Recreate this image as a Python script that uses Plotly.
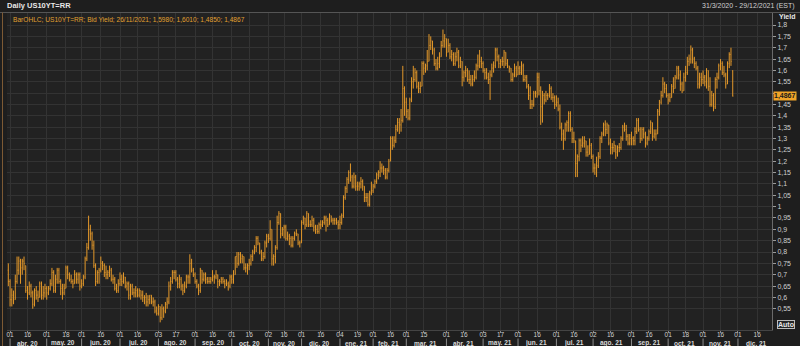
import pandas as pd
import plotly.graph_objects as go

# ---------------- data ----------------
HOLIDAYS = ["2020-04-10", "2020-05-25", "2020-07-03", "2020-09-07", "2020-10-12",
            "2020-11-11", "2020-11-26", "2020-12-25", "2021-01-01", "2021-01-18",
            "2021-02-15", "2021-04-02", "2021-05-31", "2021-07-05", "2021-09-06",
            "2021-10-11", "2021-11-11", "2021-11-25", "2021-12-24"]

MONTHS = ["2020-03", "2020-04", "2020-05", "2020-06", "2020-07", "2020-08", "2020-09",
          "2020-10", "2020-11", "2020-12", "2021-01", "2021-02", "2021-03", "2021-04",
          "2021-05", "2021-06", "2021-07", "2021-08", "2021-09", "2021-10", "2021-11"]

opens = [
    [0.72],
    [0.67,0.59,0.61,0.59,0.67,0.72,0.76,0.73,0.76,0.74,0.63,0.62,0.65,0.62,0.57,0.63,0.61,0.60,0.66,0.61,0.62],
    [0.64,0.62,0.64,0.66,0.71,0.63,0.68,0.72,0.67,0.64,0.62,0.64,0.73,0.70,0.68,0.67,0.66,0.70,0.68,0.70],
    [0.65,0.66,0.69,0.77,0.82,0.90,0.88,0.83,0.74,0.67,0.71,0.72,0.75,0.74,0.71,0.70,0.71,0.72,0.68,0.68,0.64,0.63],
    [0.66,0.68,0.67,0.69,0.65,0.66,0.61,0.65,0.62,0.62,0.63,0.61,0.63,0.61,0.60,0.60,0.58,0.59,0.61,0.58,0.58,0.54],
    [0.53,0.56,0.51,0.55,0.54,0.57,0.58,0.65,0.67,0.71,0.71,0.68,0.66,0.68,0.65,0.63,0.65,0.69,0.69,0.75,0.72],
    [0.70,0.67,0.65,0.63,0.72,0.68,0.70,0.68,0.67,0.67,0.68,0.69,0.69,0.70,0.67,0.67,0.68,0.67,0.66,0.66,0.65],
    [0.69,0.68,0.70,0.78,0.75,0.79,0.77,0.78,0.73,0.73,0.74,0.75,0.78,0.80,0.82,0.86,0.84,0.80,0.77,0.78,0.84],
    [0.87,0.86,0.90,0.77,0.78,0.82,0.93,0.97,0.88,0.90,0.91,0.86,0.87,0.86,0.83,0.86,0.88,0.88,0.84],
    [0.84,0.93,0.95,0.92,0.97,0.92,0.92,0.94,0.91,0.90,0.89,0.92,0.92,0.93,0.95,0.94,0.92,0.96,0.94,0.94,0.94,0.93],
    [0.92,0.93,0.96,1.04,1.08,1.12,1.15,1.13,1.09,1.13,1.09,1.09,1.10,1.11,1.09,1.04,1.04,1.01,1.06],
    [1.07,1.09,1.11,1.14,1.15,1.17,1.17,1.16,1.13,1.16,1.20,1.30,1.27,1.29,1.34,1.37,1.36,1.38,1.52],
    [1.46,1.42,1.39,1.47,1.55,1.56,1.59,1.53,1.52,1.53,1.63,1.61,1.62,1.64,1.71,1.73,1.69,1.63,1.61,1.63,1.66,1.71,1.73],
    [1.74,1.68,1.71,1.66,1.67,1.63,1.66,1.68,1.62,1.64,1.57,1.59,1.60,1.56,1.56,1.54,1.56,1.57,1.62,1.62,1.64],
    [1.63,1.60,1.59,1.57,1.56,1.58,1.61,1.62,1.69,1.66,1.63,1.64,1.64,1.68,1.63,1.62,1.61,1.56,1.58,1.61],
    [1.58,1.61,1.59,1.62,1.56,1.57,1.53,1.49,1.45,1.45,1.50,1.50,1.57,1.51,1.44,1.49,1.47,1.49,1.49,1.52,1.48,1.48],
    [1.45,1.46,1.43,1.35,1.32,1.30,1.36,1.37,1.41,1.34,1.30,1.29,1.19,1.22,1.29,1.27,1.28,1.29,1.24,1.23,1.27],
    [1.22,1.17,1.17,1.18,1.22,1.30,1.32,1.36,1.34,1.36,1.28,1.26,1.26,1.27,1.24,1.26,1.26,1.30,1.35,1.34,1.31,1.28],
    [1.30,1.30,1.29,1.33,1.38,1.34,1.30,1.34,1.32,1.28,1.30,1.33,1.37,1.31,1.32,1.32,1.42,1.46,1.49,1.54,1.52],
    [1.49,1.47,1.48,1.53,1.52,1.57,1.61,1.58,1.54,1.51,1.57,1.59,1.64,1.65,1.69,1.65,1.63,1.61,1.54,1.57],
    [1.56,1.57,1.55,1.60,1.53,1.45,1.49,1.44,1.56,1.57,1.62,1.63,1.59,1.58,1.54,1.63,1.67,1.598],
]

highs = [
    [0.75],
    [0.68,0.64,0.63,0.70,0.78,0.78,0.77,0.77,0.78,0.74,0.65,0.67,0.66,0.63,0.64,0.65,0.63,0.67,0.67,0.65,0.66],
    [0.65,0.65,0.68,0.73,0.72,0.70,0.73,0.73,0.68,0.66,0.66,0.74,0.74,0.71,0.70,0.68,0.72,0.71,0.71,0.71],
    [0.68,0.70,0.78,0.84,0.96,0.92,0.89,0.85,0.75,0.72,0.73,0.78,0.76,0.75,0.74,0.72,0.74,0.73,0.70,0.69,0.66,0.68],
    [0.71,0.70,0.71,0.69,0.67,0.67,0.66,0.66,0.64,0.65,0.64,0.64,0.63,0.63,0.61,0.62,0.61,0.61,0.61,0.60,0.59,0.56],
    [0.57,0.56,0.57,0.56,0.58,0.60,0.67,0.69,0.72,0.72,0.72,0.69,0.70,0.69,0.66,0.67,0.70,0.70,0.79,0.77,0.73],
    [0.71,0.68,0.66,0.73,0.72,0.71,0.71,0.69,0.69,0.69,0.72,0.70,0.72,0.70,0.68,0.69,0.69,0.68,0.68,0.67,0.70],
    [0.70,0.72,0.78,0.80,0.80,0.80,0.79,0.78,0.75,0.75,0.77,0.79,0.81,0.83,0.87,0.87,0.84,0.81,0.80,0.85,0.88],
    [0.88,0.94,0.90,0.79,0.83,0.96,0.98,0.97,0.91,0.92,0.92,0.89,0.88,0.87,0.87,0.89,0.90,0.88,0.85],
    [0.94,0.96,0.95,0.98,0.97,0.94,0.96,0.95,0.92,0.92,0.93,0.94,0.94,0.96,0.96,0.95,0.97,0.96,0.95,0.95,0.95,0.94],
    [0.96,0.97,1.05,1.09,1.13,1.16,1.19,1.14,1.15,1.14,1.11,1.11,1.13,1.12,1.09,1.06,1.06,1.07,1.11],
    [1.10,1.12,1.15,1.16,1.20,1.19,1.18,1.17,1.17,1.21,1.31,1.31,1.31,1.36,1.39,1.39,1.43,1.62,1.53],
    [1.48,1.43,1.48,1.57,1.62,1.61,1.60,1.55,1.55,1.64,1.64,1.63,1.69,1.76,1.75,1.73,1.70,1.65,1.66,1.68,1.73,1.78,1.76],
    [1.74,1.74,1.72,1.69,1.68,1.68,1.70,1.69,1.66,1.64,1.60,1.62,1.61,1.60,1.58,1.58,1.60,1.63,1.67,1.69,1.66],
    [1.64,1.61,1.61,1.59,1.60,1.63,1.64,1.70,1.70,1.67,1.65,1.66,1.69,1.68,1.65,1.62,1.61,1.59,1.63,1.62],
    [1.64,1.62,1.64,1.63,1.58,1.58,1.54,1.53,1.47,1.51,1.51,1.59,1.59,1.53,1.51,1.50,1.51,1.50,1.54,1.53,1.50,1.49],
    [1.49,1.48,1.45,1.37,1.34,1.37,1.38,1.42,1.42,1.35,1.33,1.29,1.23,1.30,1.30,1.31,1.31,1.29,1.27,1.30,1.28],
    [1.23,1.19,1.22,1.24,1.31,1.33,1.37,1.38,1.37,1.36,1.30,1.28,1.29,1.27,1.27,1.28,1.31,1.36,1.37,1.36,1.32,1.32],
    [1.33,1.31,1.35,1.39,1.39,1.35,1.35,1.35,1.33,1.31,1.34,1.38,1.37,1.34,1.34,1.43,1.47,1.51,1.57,1.55,1.54],
    [1.50,1.50,1.54,1.57,1.58,1.62,1.62,1.60,1.55,1.59,1.62,1.66,1.67,1.71,1.70,1.66,1.64,1.62,1.59,1.59],
    [1.60,1.58,1.61,1.60,1.57,1.51,1.50,1.57,1.59,1.63,1.65,1.64,1.62,1.59,1.64,1.68,1.70,1.601],
]

lows = [
    [0.65],
    [0.56,0.56,0.57,0.59,0.66,0.70,0.66,0.70,0.72,0.62,0.59,0.61,0.60,0.55,0.56,0.59,0.58,0.60,0.59,0.59,0.60],
    [0.59,0.61,0.63,0.65,0.62,0.62,0.66,0.66,0.61,0.59,0.61,0.64,0.68,0.67,0.66,0.64,0.66,0.66,0.66,0.63],
    [0.64,0.65,0.68,0.76,0.81,0.85,0.81,0.73,0.65,0.66,0.66,0.71,0.72,0.69,0.68,0.68,0.69,0.67,0.66,0.63,0.62,0.62],
    [0.65,0.65,0.66,0.64,0.63,0.59,0.59,0.61,0.60,0.60,0.60,0.60,0.59,0.58,0.57,0.56,0.56,0.57,0.57,0.56,0.53,0.52],
    [0.52,0.49,0.50,0.51,0.53,0.55,0.57,0.63,0.66,0.68,0.67,0.64,0.64,0.63,0.61,0.62,0.64,0.66,0.66,0.71,0.69],
    [0.66,0.64,0.61,0.62,0.66,0.67,0.66,0.66,0.66,0.66,0.67,0.66,0.68,0.64,0.65,0.66,0.66,0.64,0.65,0.63,0.64],
    [0.66,0.66,0.70,0.73,0.74,0.75,0.75,0.72,0.71,0.70,0.72,0.74,0.76,0.79,0.80,0.83,0.79,0.76,0.76,0.77,0.82],
    [0.84,0.85,0.74,0.74,0.75,0.81,0.92,0.86,0.87,0.86,0.85,0.85,0.83,0.82,0.82,0.85,0.87,0.83,0.82],
    [0.84,0.92,0.90,0.91,0.91,0.91,0.91,0.89,0.88,0.88,0.88,0.90,0.91,0.92,0.89,0.91,0.92,0.93,0.92,0.92,0.92,0.90],
    [0.90,0.92,0.95,1.03,1.06,1.10,1.11,1.08,1.08,1.07,1.07,1.07,1.08,1.07,1.02,1.02,1.00,1.00,1.05],
    [1.06,1.08,1.10,1.12,1.13,1.15,1.14,1.12,1.12,1.15,1.20,1.25,1.26,1.28,1.33,1.32,1.33,1.37,1.40],
    [1.39,1.38,1.38,1.46,1.52,1.55,1.52,1.50,1.50,1.53,1.58,1.59,1.60,1.64,1.69,1.67,1.62,1.60,1.60,1.61,1.66,1.70,1.70],
    [1.66,1.68,1.65,1.64,1.62,1.62,1.64,1.61,1.61,1.53,1.55,1.57,1.55,1.54,1.53,1.53,1.55,1.56,1.60,1.61,1.61],
    [1.59,1.56,1.56,1.54,1.47,1.57,1.59,1.61,1.64,1.61,1.61,1.62,1.61,1.62,1.61,1.59,1.55,1.55,1.57,1.57],
    [1.58,1.58,1.58,1.55,1.55,1.52,1.47,1.43,1.43,1.44,1.48,1.48,1.49,1.36,1.37,1.45,1.46,1.47,1.48,1.47,1.46,1.43],
    [1.44,1.42,1.34,1.29,1.25,1.29,1.33,1.33,1.33,1.28,1.28,1.13,1.13,1.20,1.24,1.26,1.26,1.22,1.22,1.23,1.21],
    [1.15,1.14,1.13,1.17,1.21,1.28,1.31,1.31,1.32,1.27,1.23,1.23,1.24,1.21,1.22,1.24,1.25,1.29,1.33,1.29,1.27,1.27],
    [1.27,1.27,1.27,1.32,1.33,1.28,1.29,1.30,1.26,1.27,1.29,1.32,1.29,1.30,1.29,1.32,1.40,1.45,1.48,1.50,1.48],
    [1.45,1.46,1.48,1.50,1.52,1.56,1.56,1.51,1.50,1.51,1.55,1.58,1.62,1.63,1.63,1.61,1.60,1.52,1.52,1.53],
    [1.54,1.53,1.52,1.51,1.44,1.44,1.42,1.43,1.52,1.56,1.60,1.58,1.57,1.52,1.54,1.61,1.62,1.485],
]

closes = [
    [0.67],
    [0.59,0.61,0.59,0.67,0.72,0.76,0.73,0.76,0.75,0.63,0.62,0.65,0.62,0.57,0.63,0.61,0.60,0.66,0.61,0.62,0.64],
    [0.62,0.64,0.66,0.71,0.63,0.68,0.72,0.67,0.64,0.62,0.64,0.73,0.70,0.68,0.67,0.66,0.70,0.68,0.70,0.65],
    [0.66,0.69,0.77,0.82,0.90,0.88,0.83,0.74,0.67,0.71,0.72,0.75,0.74,0.71,0.70,0.71,0.72,0.68,0.68,0.64,0.63,0.66],
    [0.68,0.67,0.69,0.65,0.66,0.61,0.65,0.62,0.62,0.63,0.61,0.63,0.61,0.60,0.60,0.58,0.59,0.61,0.58,0.58,0.54,0.53],
    [0.56,0.51,0.55,0.54,0.57,0.58,0.65,0.67,0.71,0.71,0.68,0.66,0.68,0.65,0.63,0.65,0.69,0.69,0.75,0.72,0.70],
    [0.67,0.65,0.63,0.72,0.68,0.70,0.68,0.67,0.67,0.68,0.69,0.69,0.70,0.67,0.67,0.68,0.67,0.66,0.66,0.65,0.69],
    [0.68,0.70,0.78,0.75,0.79,0.77,0.78,0.73,0.73,0.74,0.75,0.78,0.80,0.82,0.86,0.84,0.80,0.77,0.78,0.84,0.87],
    [0.86,0.90,0.77,0.78,0.82,0.93,0.97,0.88,0.90,0.91,0.86,0.87,0.86,0.83,0.86,0.88,0.88,0.84,0.84],
    [0.93,0.95,0.92,0.97,0.92,0.92,0.94,0.91,0.90,0.89,0.92,0.92,0.93,0.95,0.94,0.92,0.96,0.94,0.94,0.94,0.93,0.92],
    [0.93,0.96,1.04,1.08,1.12,1.15,1.13,1.09,1.13,1.09,1.09,1.10,1.11,1.09,1.04,1.04,1.01,1.06,1.07],
    [1.09,1.11,1.14,1.15,1.17,1.17,1.16,1.13,1.16,1.20,1.30,1.27,1.29,1.34,1.37,1.36,1.38,1.52,1.46],
    [1.42,1.39,1.47,1.55,1.56,1.59,1.53,1.52,1.53,1.63,1.61,1.62,1.64,1.71,1.73,1.69,1.63,1.61,1.63,1.66,1.71,1.73,1.74],
    [1.68,1.71,1.66,1.67,1.63,1.66,1.68,1.62,1.64,1.57,1.59,1.60,1.56,1.56,1.54,1.56,1.57,1.62,1.62,1.64,1.63],
    [1.60,1.59,1.57,1.56,1.58,1.61,1.62,1.69,1.66,1.63,1.64,1.64,1.68,1.63,1.62,1.61,1.56,1.58,1.61,1.58],
    [1.61,1.59,1.62,1.56,1.57,1.53,1.49,1.45,1.45,1.50,1.50,1.57,1.51,1.44,1.49,1.47,1.49,1.49,1.52,1.48,1.48,1.45],
    [1.46,1.43,1.35,1.32,1.30,1.36,1.37,1.41,1.34,1.30,1.29,1.19,1.22,1.29,1.27,1.28,1.29,1.24,1.23,1.27,1.22],
    [1.17,1.17,1.18,1.22,1.30,1.32,1.36,1.34,1.36,1.28,1.26,1.26,1.27,1.24,1.26,1.26,1.30,1.35,1.34,1.31,1.28,1.30],
    [1.30,1.29,1.33,1.38,1.34,1.30,1.34,1.32,1.28,1.30,1.33,1.37,1.31,1.32,1.32,1.42,1.46,1.49,1.54,1.52,1.49],
    [1.47,1.48,1.53,1.52,1.57,1.61,1.58,1.54,1.51,1.57,1.59,1.64,1.65,1.69,1.65,1.63,1.61,1.54,1.57,1.56],
    [1.57,1.55,1.60,1.53,1.45,1.49,1.44,1.56,1.57,1.62,1.63,1.59,1.58,1.54,1.63,1.67,1.64,1.4867],
]

LABEL_MONTHS = ["2020-04", "2020-05", "2020-06", "2020-07", "2020-08", "2020-09", "2020-10",
                "2020-11", "2020-12", "2021-01", "2021-02", "2021-03", "2021-04", "2021-05",
                "2021-06", "2021-07", "2021-08", "2021-09", "2021-10", "2021-11", "2021-12"]
MONTH_TEXT = ["abr. 20", "may. 20", "jun. 20", "jul. 20", "ago. 20", "sep. 20", "oct. 20",
              "nov. 20", "dic. 20", "ene. 21", "feb. 21", "mar. 21", "abr. 21", "may. 21",
              "jun. 21", "jul. 21", "ago. 21", "sep. 21", "oct. 21", "nov. 21", "dic. 21"]

TICK_DATES = ["2020-04-01", "2020-04-16", "2020-05-01", "2020-05-18", "2020-06-01", "2020-06-16",
              "2020-07-01", "2020-07-16", "2020-08-03", "2020-08-17", "2020-09-01", "2020-09-16",
              "2020-10-01", "2020-10-16", "2020-11-02", "2020-11-16", "2020-12-01", "2020-12-16",
              "2021-01-04", "2021-01-19", "2021-02-01", "2021-02-16", "2021-03-01", "2021-03-15",
              "2021-04-01", "2021-04-16", "2021-05-03", "2021-05-17", "2021-06-01", "2021-06-16",
              "2021-07-01", "2021-07-16", "2021-08-02", "2021-08-16", "2021-09-01", "2021-09-16",
              "2021-10-01", "2021-10-18", "2021-11-01", "2021-11-16", "2021-12-01", "2021-12-16"]
TICK_TEXT = ["01", "16", "01", "18", "01", "16", "01", "16", "03", "17", "01", "16", "01", "16",
             "02", "16", "01", "16", "04", "19", "01", "16", "01", "15", "01", "16", "03", "17",
             "01", "16", "01", "16", "02", "16", "01", "16", "01", "18", "01", "16", "01", "16"]

Y_TICKS = [0.55, 0.6, 0.65, 0.7, 0.75, 0.8, 0.85, 0.9, 0.95, 1.0, 1.05, 1.1, 1.15, 1.2, 1.25,
           1.3, 1.35, 1.4, 1.45, 1.5, 1.55, 1.6, 1.65, 1.7, 1.75, 1.8]
# the 1,5 label sits under the last-value tag in the reference
Y_TEXT = ["0,55", "0,6", "0,65", "0,7", "0,75", "0,8", "0,85", "0,9", "0,95", "1", "1,05", "1,1",
          "1,15", "1,2", "1,25", "1,3", "1,35", "1,4", "1,45", "", "1,55", "1,6", "1,65", "1,7",
          "1,75", "1,8"]

LAST_VALUE = 1.4867
LAST_TEXT = "1,4867"

# ---------------- calendar (trading days) ----------------
cal = pd.bdate_range("2020-03-31", "2021-12-31")
cal = cal[~cal.isin(pd.to_datetime(HOLIDAYS))]
month_key = cal.strftime("%Y-%m")

dates, o, h, l, c = [], [], [], [], []
for m, mo, mh, ml, mc in zip(MONTHS, opens, highs, lows, closes):
    days = cal[month_key == m]
    n = min(len(days), len(mo), len(mh), len(ml), len(mc))
    dates += list(days[:n])
    o += mo[:n]
    h += mh[:n]
    l += ml[:n]
    c += mc[:n]

# ---------------- pixel helpers for decorations ----------------
W, H = 800, 346
ML, MR, MT, MB = 7, 28, 13, 16
PW, PH = W - ML - MR, H - MT - MB


def px(x):
    return (x - ML) / PW


def py(y):
    return (H - MB - y) / PH


BAR = "#e3982a"
GRID = "#333333"
TXT = "#cfcfcf"
FONT = "Liberation Sans"

fig = go.Figure()
fig.add_trace(go.Ohlc(
    x=dates, open=o, high=h, low=l, close=c,
    increasing=dict(line=dict(color=BAR, width=1)),
    decreasing=dict(line=dict(color=BAR, width=1)),
    tickwidth=0.3, hoverinfo="skip", showlegend=False,
))

# month labels and separators
annotations = []
shapes = []
for m, txt in zip(LABEL_MONTHS, MONTH_TEXT):
    days = cal[month_key == m]
    k = len(days)
    if k % 2 == 1:
        mid = days[k // 2]
    else:
        mid = days[k // 2 - 1] + pd.Timedelta(hours=12)
    annotations.append(dict(x=mid, y=py(347.5), xref="x", yref="paper", text="<b>" + txt + "</b>",
                            showarrow=False, font=dict(size=6.5, color="#d8d8d8", family=FONT),
                            xanchor="center", yanchor="bottom", borderpad=0))
    shapes.append(dict(type="line", xref="x", yref="paper", x0=days[0], x1=days[0],
                       y0=py(338.5), y1=py(346), line=dict(color="#8c8c8c", width=1)))

# header texts
annotations += [
    dict(x=px(5), y=py(6), xref="paper", yref="paper", text="<b>Daily US10YT=RR</b>",
         showarrow=False, xanchor="left", yanchor="middle",
         font=dict(size=7.5, color="#e8e8e8", family=FONT)),
    dict(x=px(797), y=py(6), xref="paper", yref="paper", text="31/3/2020 - 29/12/2021 (EST)",
         showarrow=False, xanchor="right", yanchor="middle",
         font=dict(size=7, color=TXT, family=FONT)),
    dict(x=px(11), y=py(19), xref="paper", yref="paper",
         text="BarOHLC; US10YT=RR; Bid Yield; 26/11/2021; 1,5980; 1,6010; 1,4850; 1,4867",
         showarrow=False, xanchor="left", yanchor="middle",
         font=dict(size=6.6, color="#e0a030", family=FONT)),
    dict(x=px(777), y=py(16), xref="paper", yref="paper", text="<b>Yield</b>",
         showarrow=False, xanchor="left", yanchor="middle",
         font=dict(size=7, color="#e8e8e8", family=FONT)),
    dict(x=px(773), y=LAST_VALUE, xref="paper", yref="y", text="<b>" + LAST_TEXT + "</b>",
         showarrow=False, xanchor="left", yanchor="middle", bgcolor="#f0a428",
         borderpad=0, font=dict(size=7, color="#1a1a1a", family=FONT)),
    dict(x=px(786), y=py(324), xref="paper", yref="paper", text="<b>Auto</b>",
         showarrow=False, xanchor="center", yanchor="middle", bgcolor="#262626",
         bordercolor="#bdbdbd", borderwidth=1, borderpad=0,
         font=dict(size=7, color="#e8e8e8", family=FONT)),
]

shapes += [
    dict(type="line", xref="paper", yref="paper", x0=px(0), x1=px(800), y0=py(12.5), y1=py(12.5),
         line=dict(color="#555555", width=1)),
    dict(type="line", xref="paper", yref="paper", x0=px(2.5), x1=px(2.5), y0=py(12.5), y1=py(346),
         line=dict(color="#7d5a34", width=1)),
]

fig.update_layout(
    width=W, height=H,
    margin=dict(l=ML, r=MR, t=MT, b=MB, pad=0),
    paper_bgcolor="#1e1e1e", plot_bgcolor="#222222",
    separators=",.",
    font=dict(family=FONT, size=7, color=TXT),
    showlegend=False,
    annotations=annotations,
    shapes=shapes,
    xaxis=dict(
        type="date",
        range=["2020-03-30 06:00", "2021-12-29 12:00"],
        rangebreaks=[dict(bounds=["sat", "mon"]), dict(values=HOLIDAYS)],
        rangeslider=dict(visible=False),
        tickmode="array", tickvals=TICK_DATES, ticktext=TICK_TEXT,
        showgrid=True, gridcolor=GRID, gridwidth=1,
        ticks="outside", ticklen=2, tickcolor="#8a8a8a",
        ticklabelstandoff=-4,
        tickfont=dict(size=6.5, color=TXT, family=FONT),
        showline=True, linecolor="#444444", zeroline=False,
        fixedrange=True,
    ),
    yaxis=dict(
        side="right",
        range=[0.4564, 1.8529],
        tickmode="array", tickvals=Y_TICKS, ticktext=Y_TEXT,
        showgrid=True, gridcolor=GRID, gridwidth=1,
        ticks="outside", ticklen=3, tickcolor="#9a9a9a",
        tickfont=dict(size=7, color=TXT, family=FONT),
        showline=True, linecolor="#6a6a6a", zeroline=False,
        fixedrange=True,
    ),
)

fig.write_html("out.html")
